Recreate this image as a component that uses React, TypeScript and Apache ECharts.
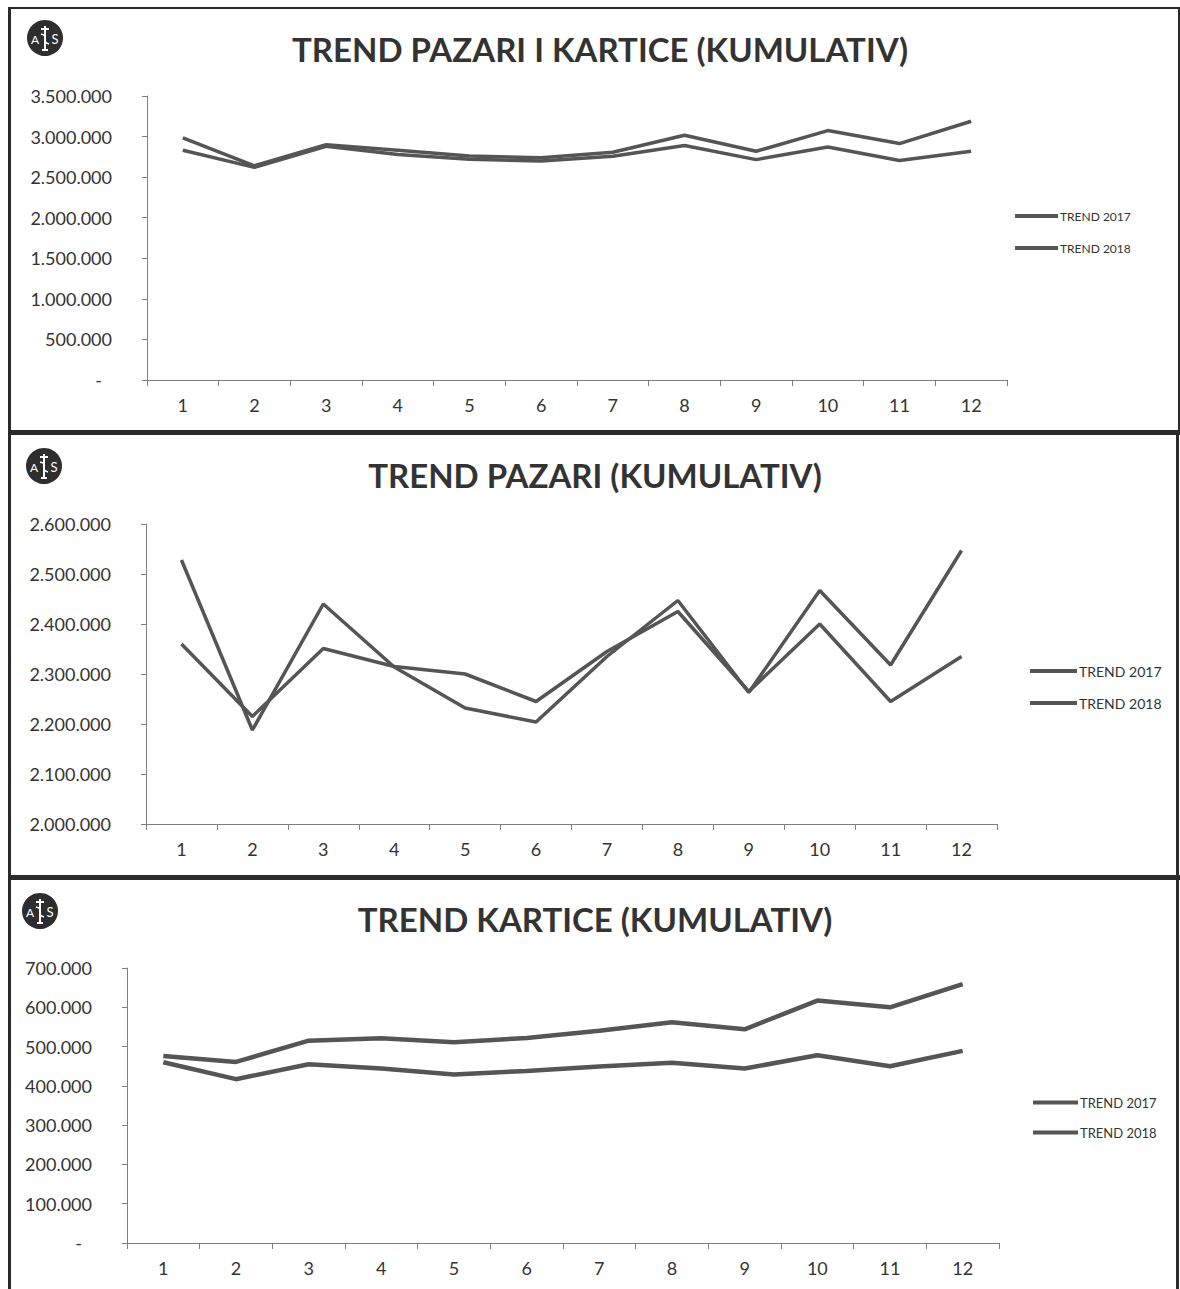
import React, { useEffect, useRef } from "react";
import * as echarts from "echarts";

const months = ["1", "2", "3", "4", "5", "6", "7", "8", "9", "10", "11", "12"];

// TREND PAZARI I KARTICE (KUMULATIV)
const totalTrend2017 = [2831000, 2620000, 2880000, 2780000, 2720000, 2700000, 2757000, 2889000, 2716000, 2872000, 2704000, 2819000];
const totalTrend2018 = [2984000, 2640000, 2900000, 2830000, 2760000, 2740000, 2806000, 3016000, 2819000, 3074000, 2914000, 3189000];

// TREND PAZARI (KUMULATIV)
const pazariTrend2017 = [2360000, 2215000, 2351000, 2315000, 2300000, 2245000, 2345000, 2425000, 2265000, 2400000, 2245000, 2335000];
const pazariTrend2018 = [2528000, 2188000, 2440000, 2314000, 2232000, 2204000, 2335000, 2447000, 2263000, 2467000, 2318000, 2547000];

// TREND KARTICE (KUMULATIV)
const karticeTrend2017 = [460000, 417000, 455000, 444000, 429000, 438000, 449000, 459000, 444000, 478000, 450000, 489000];
const karticeTrend2018 = [476000, 461000, 515000, 521000, 511000, 522000, 540000, 562000, 544000, 617000, 600000, 659000];

const titles = ["TREND PAZARI I KARTICE (KUMULATIV)", "TREND PAZARI (KUMULATIV)", "TREND KARTICE (KUMULATIV)"];
const seriesNames = ["TREND 2017", "TREND 2018"];

const FONT = "Lato, 'Open Sans', sans-serif";
const TEXT = "#333333";
const LINE = "#555555";
const AXIS = "#808080";

const fmt = (v: number) =>
  v === 0 ? "{d|-}" : String(v).replace(/\B(?=(\d{3})+(?!\d))/g, ".");

export default function App() {
  const ref = useRef<HTMLDivElement>(null);

  useEffect(() => {
    if (!ref.current) return;
    const chart = echarts.init(ref.current, null, { renderer: "svg" });

    const grids = [
      { left: 147, top: 96, width: 860, height: 284 },
      { left: 146, top: 524, width: 851, height: 300 },
      { left: 127, top: 968, width: 872, height: 275 },
    ];
    const yRanges = [
      { min: 0, max: 3500000, interval: 500000 },
      { min: 2000000, max: 2600000, interval: 100000 },
      { min: 0, max: 700000, interval: 100000 },
    ];
    const data = [
      [totalTrend2017, totalTrend2018],
      [pazariTrend2017, pazariTrend2018],
      [karticeTrend2017, karticeTrend2018],
    ];
    const lineWidths = [3.5, 3.5, 4.5];
    const titleCenters = [
      { x: 600, y: 51 },
      { x: 595, y: 477 },
      { x: 595, y: 921 },
    ];
    const legendPos = [
      { left: 1015, tops: [217, 249], font: 12, w: 43 },
      { left: 1030, tops: [672, 704], font: 14, w: 47 },
      { left: 1033, tops: [1104, 1134], font: 13, w: 45 },
    ];
    const logos = [
      { x: 45, y: 38 },
      { x: 44, y: 466 },
      { x: 40, y: 911 },
    ];

    const xAxis = grids.map((_, i) => ({
      type: "category",
      gridIndex: i,
      data: months,
      boundaryGap: true,
      axisLine: { lineStyle: { color: AXIS, width: 1 } },
      axisTick: { show: true, length: 6, alignWithLabel: false, lineStyle: { color: AXIS } },
      axisLabel: { color: TEXT, fontFamily: FONT, fontSize: 18, margin: 16 },
    }));

    const yAxis = grids.map((_, i) => ({
      type: "value",
      gridIndex: i,
      min: yRanges[i].min,
      max: yRanges[i].max,
      interval: yRanges[i].interval,
      splitLine: { show: false },
      axisLine: { show: true, lineStyle: { color: AXIS, width: 1 } },
      axisTick: { show: true, length: 5, lineStyle: { color: AXIS } },
      axisLabel: {
        color: TEXT,
        fontFamily: FONT,
        fontSize: 18,
        margin: 35,
        formatter: fmt,
        rich: { d: { color: TEXT, fontFamily: FONT, fontSize: 18, padding: [0, 10, 0, 0] } },
      },
    }));

    const series: any[] = [];
    data.forEach((pair, i) => {
      pair.forEach((vals, j) => {
        series.push({
          type: "line",
          name: seriesNames[j],
          xAxisIndex: i,
          yAxisIndex: i,
          data: vals,
          symbol: "none",
          smooth: false,
          lineStyle: { color: LINE, width: lineWidths[i] },
          itemStyle: { color: LINE },
          z: 3,
        });
      });
    });

    const legend: any[] = [];
    legendPos.forEach((lp) => {
      seriesNames.forEach((n, j) => {
        legend.push({
          data: [n],
          left: lp.left,
          top: lp.tops[j] - Math.round(lp.font / 2) - 1,
          padding: 0,
          icon: "rect",
          itemWidth: lp.w,
          itemHeight: 4,
          itemGap: 0,
          selectedMode: false,
          textStyle: { color: TEXT, fontFamily: FONT, fontSize: lp.font, padding: [0, 0, 0, -3] },
        });
      });
    });

    const title = titles.map((t, i) => ({
      text: t,
      left: titleCenters[i].x,
      top: titleCenters[i].y - 19,
      textAlign: "center",
      padding: 0,
      textStyle: { color: TEXT, fontFamily: FONT, fontSize: 33, fontWeight: "bold" },
    }));

    const graphic: any[] = [
      // panel borders
      { type: "rect", shape: { x: 8, y: 7, width: 1172, height: 2 }, style: { fill: "#2b2b2b" } },
      { type: "rect", shape: { x: 8, y: 7, width: 3, height: 1282 }, style: { fill: "#2b2b2b" } },
      { type: "rect", shape: { x: 8, y: 430, width: 1172, height: 5 }, style: { fill: "#2b2b2b" } },
      { type: "rect", shape: { x: 8, y: 875, width: 1172, height: 5 }, style: { fill: "#2b2b2b" } },
      { type: "rect", shape: { x: 1176, y: 430, width: 3, height: 859 }, style: { fill: "#2b2b2b" } },
      { type: "rect", shape: { x: 1178, y: 7, width: 2, height: 425 }, style: { fill: "#2b2b2b" } },
    ];
    logos.forEach((p) => {
      graphic.push({
        type: "group",
        x: p.x,
        y: p.y,
        children: [
          { type: "circle", shape: { cx: 0, cy: 0, r: 18 }, style: { fill: "#2e2e2e" } },
          { type: "text", x: -10, y: 1, style: { text: "A", fill: "#ffffff", font: `12px ${FONT}`, textAlign: "center", textVerticalAlign: "middle" } },
          { type: "text", x: 10, y: 1, style: { text: "S", fill: "#ffffff", font: `13px ${FONT}`, textAlign: "center", textVerticalAlign: "middle" } },
          { type: "line", shape: { x1: 0, y1: -12, x2: 0, y2: 13 }, style: { stroke: "#ffffff", lineWidth: 2 } },
          { type: "line", shape: { x1: -4, y1: -9, x2: 4, y2: -9 }, style: { stroke: "#ffffff", lineWidth: 2 } },
          { type: "line", shape: { x1: -3, y1: 12, x2: 3, y2: 12 }, style: { stroke: "#ffffff", lineWidth: 2 } },
          { type: "bezierCurve", shape: { x1: -4, y1: -4, x2: 4, y2: 6, cpx1: 6, cpy1: -2, cpx2: -6, cpy2: 3 }, style: { stroke: "#ffffff", lineWidth: 1.5, fill: "none" } },
        ],
      });
    });

    chart.setOption({
      animation: false,
      backgroundColor: "#ffffff",
      title,
      legend,
      grid: grids,
      xAxis,
      yAxis,
      series,
      graphic,
    });

    return () => chart.dispose();
  }, []);

  return (
    <div
      ref={ref}
      style={{ position: "absolute", left: 0, top: 0, width: 1180, height: 1289, background: "#fff" }}
    />
  );
}
